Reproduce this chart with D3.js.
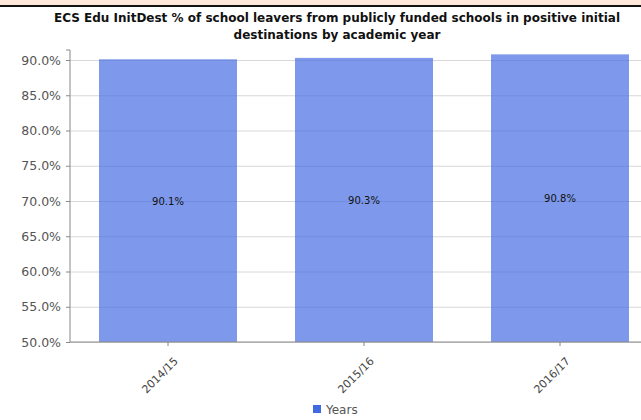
<!DOCTYPE html>
<html>
<head>
<meta charset="utf-8">
<script src="https://cdn.jsdelivr.net/npm/d3@7"></script>
<style>
  body { margin: 0; background: #fff; }
  svg { display: block; font-family: "DejaVu Sans", Verdana, sans-serif; }
</style>
</head>
<body>
<svg id="chart"></svg>
<script>
// Values
const years = ["2014/15", "2015/16", "2016/17"];
const values = [90.1, 90.3, 90.8];
const yTicks = [50, 55, 60, 65, 70, 75, 80, 85, 90];
const titleLines = [
  "ECS Edu InitDest % of school leavers from publicly funded schools in positive initial",
  "destinations by academic year"
];
const legendLabel = "Years";

const W = 641, H = 420;
const margin = { top: 60, left: 70, bottom: 78 };
const plotBottom = 342;

const svg = d3.select("#chart").attr("width", W).attr("height", H);

// peach band and dark rule at the very top
svg.append("rect").attr("x", 0).attr("y", 0).attr("width", W).attr("height", 5).attr("fill", "#fde8da");
svg.append("rect").attr("x", 0).attr("y", 5).attr("width", W).attr("height", 2).attr("fill", "#111");

// title
svg.append("g").selectAll("text")
  .data(titleLines)
  .enter().append("text")
  .attr("x", 337)
  .attr("y", (d, i) => 22 + i * 17)
  .attr("text-anchor", "middle")
  .attr("font-size", 12)
  .attr("font-weight", "bold")
  .attr("fill", "#111")
  .text(d => d);

const x = d3.scaleBand()
  .domain(years)
  .range([margin.left, 658])
  .paddingInner(0.296)
  .paddingOuter(0.148);

const y = d3.scaleLinear()
  .domain([50, 90])
  .range([plotBottom, margin.top]);

// grid lines
svg.append("g").selectAll("line")
  .data(yTicks)
  .enter().append("line")
  .attr("x1", margin.left).attr("x2", W)
  .attr("y1", d => y(d) + 0.5).attr("y2", d => y(d) + 0.5)
  .attr("stroke", "#d8d8d8");

// bars
svg.append("g").selectAll("rect")
  .data(values)
  .enter().append("rect")
  .attr("x", (d, i) => x(years[i]))
  .attr("width", x.bandwidth())
  .attr("y", d => y(d))
  .attr("height", d => y(50) - y(d))
  .attr("fill", "#4169e1")
  .attr("fill-opacity", 0.68);

// value labels in the middle of the bars
svg.append("g").selectAll("text")
  .data(values)
  .enter().append("text")
  .attr("x", (d, i) => x(years[i]) + x.bandwidth() / 2)
  .attr("y", d => (y(d) + y(50)) / 2 + 4)
  .attr("text-anchor", "middle")
  .attr("font-size", 10)
  .attr("fill", "#111")
  .text(d => d.toFixed(1) + "%");

// y axis
const yAxis = svg.append("g")
  .attr("transform", `translate(${margin.left},0)`)
  .call(d3.axisLeft(y).tickValues(yTicks).tickSize(4).tickPadding(5)
    .tickFormat(d => d.toFixed(1) + "%"));
yAxis.select(".domain").attr("stroke", "#888").attr("d", `M-4,${margin.top - 10}H0V${plotBottom}`);
yAxis.selectAll(".tick line").attr("stroke", "#888");
yAxis.selectAll(".tick text").attr("fill", "#555").attr("font-size", 12.5)
  .attr("font-family", "DejaVu Sans, Verdana, sans-serif");

// x axis
const xAxis = svg.append("g")
  .attr("transform", `translate(0,${plotBottom})`)
  .call(d3.axisBottom(x).tickSize(4).tickPadding(4));
xAxis.select(".domain").attr("stroke", "#888").attr("d", `M${margin.left},0H${W}`);
xAxis.selectAll(".tick line").attr("stroke", "#888");
xAxis.selectAll(".tick text")
  .attr("fill", "#444")
  .attr("font-size", 11)
  .attr("font-family", "DejaVu Sans, Verdana, sans-serif")
  .attr("text-anchor", "end")
  .attr("x", 0).attr("y", 0)
  .attr("dx", 0).attr("dy", "0.35em")
  .attr("transform", "translate(8,17) rotate(-45)");

// legend
const legend = svg.append("g").attr("transform", "translate(313,405)");
legend.append("rect").attr("width", 8).attr("height", 8).attr("fill", "#4169e1");
legend.append("text").attr("x", 13).attr("y", 9).attr("font-size", 12).attr("fill", "#555").text(legendLabel);
</script>
</body>
</html>
